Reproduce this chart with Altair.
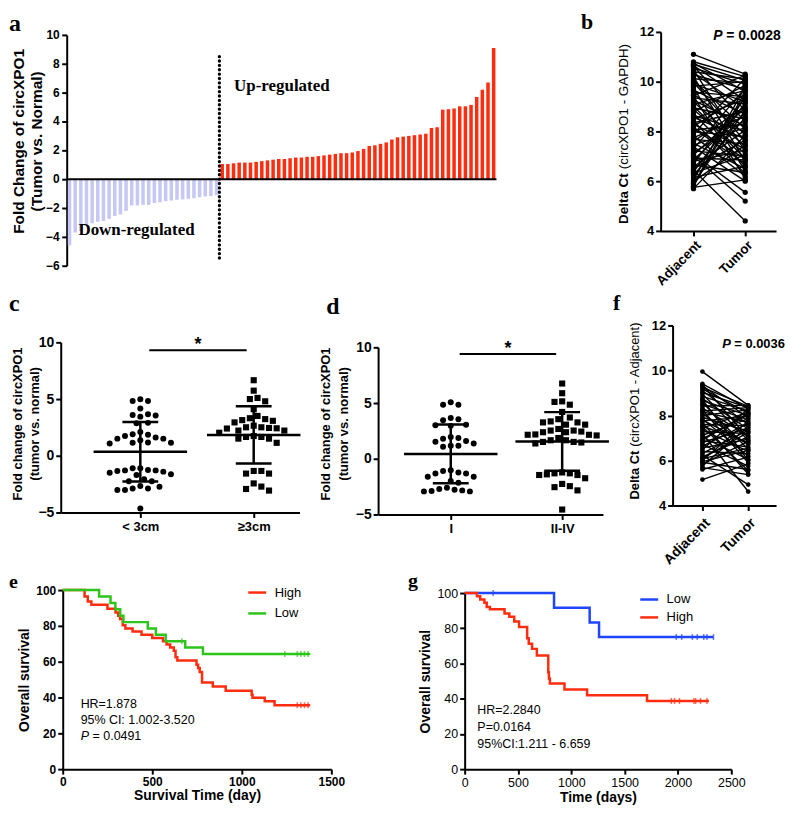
import altair as alt
import numpy as np
import pandas as pd

# ---------------- data ----------------
# (a) fold change per sample, sorted
a_down = [-4.6, -3.7, -3.6, -3.15, -3.05, -2.95, -2.9, -2.75, -2.55, -2.45, -2.2, -1.82, -1.82, -1.78,
          -1.78, -1.65, -1.6, -1.52, -1.48, -1.43, -1.4, -1.36, -1.32, -1.25, -1.2, -1.17, -1.12]
a_up = [1.05, 1.05, 1.1, 1.15, 1.15, 1.15, 1.2, 1.25, 1.3, 1.35, 1.4, 1.4, 1.45, 1.5, 1.5, 1.55, 1.55,
        1.6, 1.65, 1.7, 1.75, 1.8, 1.8, 1.85, 1.95, 2.1, 2.3, 2.35, 2.45, 2.55, 2.75, 2.9, 2.95, 3.0,
        3.05, 3.1, 3.15, 3.55, 3.6, 4.82, 4.85, 4.9, 5.05, 5.05, 5.15, 5.7, 6.2, 6.7, 9.1]
a_ticks = [-6, -4, -2, 0, 2, 4, 6, 8, 10]

# (b) paired delta Ct (circXPO1 - GAPDH)
b_adjacent = [11.10, 10.80, 10.75, 10.70, 10.62, 10.55, 10.48, 10.40, 10.35, 10.28, 10.20, 10.12, 10.05,
              9.98, 9.90, 9.82, 9.75, 9.66, 9.58, 9.50, 9.42, 9.35, 9.26, 9.18, 9.10, 9.02, 8.95, 8.88,
              8.80, 8.72, 8.64, 8.57, 8.50, 8.42, 8.35, 8.28, 8.20, 8.12, 8.05, 7.98, 7.90, 7.82, 7.75,
              7.68, 7.60, 7.52, 7.45, 7.38, 7.30, 7.22, 7.15, 7.08, 7.00, 6.93, 6.86, 6.80, 6.72, 6.65,
              6.58, 6.50, 6.44, 6.38, 6.32, 6.25, 6.15, 6.05, 5.98, 5.92, 5.86, 5.80, 5.75, 5.70, 10.65,
              9.45, 8.15, 7.05]
b_tumor = [10.30, 10.20, 9.60, 10.05, 8.40, 9.90, 7.20, 10.10, 8.90, 9.70, 6.80, 9.95, 8.10, 7.60, 9.20,
           10.00, 6.40, 8.70, 9.40, 7.90, 6.10, 9.10, 8.20, 7.40, 9.65, 6.90, 8.50, 7.10, 9.85, 6.60,
           8.00, 7.70, 9.30, 6.30, 8.80, 7.30, 9.50, 6.70, 8.30, 7.80, 10.15, 6.20, 8.60, 7.50, 9.00,
           6.50, 8.15, 6.00, 9.75, 7.00, 8.45, 5.55, 5.20, 6.85, 8.75, 7.25, 9.35, 6.35, 8.05, 7.65,
           4.40, 9.15, 7.05, 8.55, 6.60, 9.80, 7.45, 8.85, 9.60, 9.45, 6.05, 7.85, 9.25, 10.25, 6.90, 8.95]

# (c) fold change by tumour size
c_small = [4.99, 4.82, 4.82, 4.17, 3.60, 3.55, 3.65, 3.45, 2.86, 2.90, 2.10, 1.90, 1.85, 1.74, 1.51,
           1.37, 1.14, 1.08, 1.14, 1.17, 1.51, 1.60, -1.11, -1.29, -1.35, -1.40, -1.49, -1.63, -1.70,
           -1.29, -1.26, -1.11, -2.07, -2.24, -2.24, -2.67, -2.88, -3.02, -3.02, -2.88, -2.74, -4.65]
c_large = [6.66, 5.74, 5.10, 4.80, 5.00, 4.10, 3.31, 3.14, 2.94, 3.23, 3.08, 3.51, 2.45, 2.40, 2.03,
           2.51, 2.22, 2.22, 2.42, 2.51, 2.65, 1.66, 1.74, 1.51, 1.51, 1.66, 1.14, -1.34, -1.57, -1.57,
           -1.34, -2.72, -3.07, -2.93, -2.44]

# (d) fold change by stage
d_stage1 = [5.06, 4.85, 4.85, 3.65, 3.45, 3.55, 2.95, 3.00, 3.05, 1.86, 1.95, 1.60, 1.37, 1.17, 1.08,
            1.17, 1.52, 1.80, -1.04, -1.24, -1.33, -1.62, -1.62, -1.33, -1.10, -2.00, -2.15, -2.60,
            -2.78, -2.90, -2.93, -2.93, -2.84, -2.72]
d_stage2 = [6.75, 5.88, 5.10, 4.85, 5.15, 4.20, 3.55, 3.26, 3.06, 3.06, 3.26, 3.35, 3.70, 2.53, 2.44,
            2.38, 2.15, 2.09, 2.15, 2.18, 2.38, 2.53, 2.67, 1.66, 1.51, 1.46, 1.37, 1.51, 1.66, 1.86,
            -1.23, -1.46, -1.46, -1.40, -1.31, -1.31, -1.75, -2.26, -2.55, -2.84, -2.46, -4.56]

# (f) paired delta Ct (circXPO1 - Adjacent)
f_adjacent = [9.95, 9.40, 9.32, 9.25, 9.18, 9.10, 9.02, 8.95, 8.85, 8.75, 8.66, 8.58, 8.50, 8.42, 8.33,
              8.25, 8.16, 8.08, 8.00, 7.92, 7.84, 7.76, 7.68, 7.60, 7.52, 7.44, 7.36, 7.28, 7.20, 7.12,
              7.04, 6.96, 6.88, 6.80, 6.72, 6.64, 6.56, 6.48, 6.40, 6.32, 6.24, 6.16, 6.08, 6.00, 5.92,
              5.84, 5.76, 5.68, 5.60, 5.15, 9.35, 8.70, 8.20, 7.50, 6.90, 6.10, 5.95, 7.80]
f_tumor = [8.45, 8.30, 7.90, 8.40, 8.10, 7.60, 8.35, 6.90, 8.20, 7.40, 8.00, 6.50, 7.80, 8.45, 7.10,
           5.90, 7.70, 6.70, 8.25, 7.30, 6.20, 7.95, 5.40, 7.55, 6.80, 8.15, 6.40, 7.20, 4.62, 7.85,
           6.05, 8.05, 6.60, 7.45, 5.75, 7.65, 6.95, 8.30, 6.30, 7.35, 4.93, 7.05, 6.55, 7.75, 5.60,
           6.85, 7.50, 5.37, 6.15, 5.85, 7.00, 6.00, 8.35, 5.55, 8.10, 7.25, 6.45, 6.75]

# (e) Kaplan-Meier
e_high_t = [0, 122, 140, 160, 250, 295, 310, 320, 335, 350, 390, 440, 500, 560, 580, 600, 620, 630, 640,
            747, 756, 765, 778, 838, 910, 1055, 1060, 1128, 1183, 1382]
e_high_s = [100, 96.4, 93.6, 91.8, 89.5, 87.5, 85.7, 83.9, 80.4, 78.6, 76.8, 75.0, 73.2, 71.4, 69.6,
            67.9, 66.1, 62.5, 60.7, 58.3, 56.5, 54.2, 48.4, 46.2, 43.8, 41.6, 39.9, 37.9, 35.7, 35.7]
e_low_t = [0, 203, 267, 294, 321, 339, 475, 520, 575, 684, 783, 1382]
e_low_s = [100, 96.4, 92.8, 89.3, 85.7, 82.1, 78.6, 75.0, 71.4, 67.9, 64.3, 64.3]
e_high_cens = [1310, 1330, 1350, 1370]
e_low_cens = [665, 1240, 1310, 1330, 1350, 1370]

# (g) Kaplan-Meier
g_low_t = [0, 838, 1172, 1260, 2333]
g_low_s = [100, 91.7, 83.3, 75.0, 75.0]
g_high_t = [0, 115, 146, 185, 207, 237, 374, 419, 465, 510, 586, 601, 632, 677, 784, 790, 799, 936,
            1148, 1710, 2290]
g_high_s = [100, 98.2, 96.3, 94.5, 92.1, 90.8, 88.4, 86.6, 83.9, 80.7, 74.3, 71.2, 68.3, 64.6, 55.0,
            51.5, 48.6, 45.2, 42.0, 38.7, 38.7]
g_low_cens = [267, 1984, 2035, 2135, 2181, 2242, 2272, 2333]
g_high_cens = [1938, 1968, 2014, 2150, 2166, 2211, 2272]

# ---------------- style ----------------
SANS = "Liberation Sans"
SERIF = "Liberation Serif"
RED = "#ff2d0f"
LAV = "#c5c7f4"
GREEN = "#2dc41b"
BLUE = "#1f45ff"

# page layout (plot area left/top/width/height, domains, and the panel's cell box)
LAYOUT = {
    "a": dict(L=66, T=32, W=432, H=232, xd=[0.5, len(a_down) + len(a_up) + 0.5], yd=[-6, 10],
              box=(8, 8, 580, 289)),
    "b": dict(L=663, T=29, W=116, H=200, xd=[0.365, 2.596], yd=[4, 12], box=(580, 8, 785, 289)),
    "c": dict(L=60, T=340, W=240, H=171, xd=[0.298, 2.404], yd=[-5, 10], box=(8, 289, 318, 568)),
    "d": dict(L=379, T=345, W=226, H=168, xd=[0.348, 2.366], yd=[-5, 10], box=(318, 289, 608, 568)),
    "f": dict(L=670, T=323, W=104, H=181, xd=[0.348, 2.609], yd=[4, 12], box=(608, 289, 785, 568)),
    "e": dict(L=62, T=588, W=270, H=180, xd=[0, 1500], yd=[0, 100], box=(8, 568, 405, 805)),
    "g": dict(L=466, T=591, W=268, H=177, xd=[0, 2500], yd=[0, 100], box=(405, 568, 785, 805)),
}


def sx(P, v):
    return (v - P["xd"][0]) / (P["xd"][1] - P["xd"][0]) * P["W"]


def sy(P, v):
    return (1 - (v - P["yd"][0]) / (P["yd"][1] - P["yd"][0])) * P["H"]


def xscale(P):
    return alt.Scale(domain=P["xd"], nice=False, zero=False)


def yscale(P):
    return alt.Scale(domain=P["yd"], nice=False, zero=False)


def one():
    return alt.Chart(alt.Data(values=[{"k": 1}]))


def frame(P):
    x0, y0, x1, y1 = P["box"]
    return one().mark_rect(opacity=0, fill="white").encode(
        x=alt.value(x0 - P["L"]), x2=alt.value(x1 - P["L"]),
        y=alt.value(y0 - P["T"]), y2=alt.value(y1 - P["T"]))


def spacer():
    return one().mark_rect(opacity=0, fill="white").encode(
        x=alt.value(0), x2=alt.value(1), y=alt.value(0), y2=alt.value(1)).properties(width=1, height=1)


def text_at(x, y, text, size, weight="normal", style="normal", font=SANS, angle=0, align="left",
            baseline="alphabetic", dx=0):
    mk = dict(text=text, font=font, fontSize=size, fontWeight=weight, fontStyle=style,
              align=align, baseline=baseline, color="black")
    if angle:
        mk["angle"] = angle
    if dx:
        mk["dx"] = dx
    return one().mark_text(**mk).encode(x=alt.value(x), y=alt.value(y))


def page_text(P, text, x, y, size, **kw):
    return text_at(x - P["L"], y - P["T"], text, size, **kw)


def letter(P, ch, x, y, size):
    return page_text(P, ch, x, y, size, weight="bold", font=SERIF)


def ann(P, text, x, y, size, **kw):
    # annotation anchored at a data position of the panel
    return text_at(sx(P, x), sy(P, y), text, size, **kw)


def seg(P, x0, y0, x1, y1, width=2, **kw):
    return one().mark_rule(color="black", strokeWidth=width, **kw).encode(
        x=alt.value(sx(P, x0)), x2=alt.value(sx(P, x1)), y=alt.value(sy(P, y0)), y2=alt.value(sy(P, y1)))


def axis(values, size, bold=True, **kw):
    d = dict(values=values, labelFontSize=size, labelFontWeight="bold" if bold else "normal",
             labelFont=SANS, labelColor="black", grid=False, tickSize=5, tickWidth=2,
             tickColor="black", domainWidth=2, domainColor="black", labelPadding=2,
             labelFlush=False, labelOverlap=False)
    d.update(kw)
    return alt.Axis(**d)


def wrap(panel):
    # a 1px spacer above the panel puts the group origin at the top of the cell
    return alt.vconcat(spacer(), panel, spacing=0)


# ---------------- panel a ----------------
P = LAYOUT["a"]
n_a = len(a_down) + len(a_up)
df_a = pd.DataFrame({"i": np.arange(1, n_a + 1), "v": a_down + a_up})
df_a["x0"] = df_a["i"] - 0.31
df_a["x1"] = df_a["i"] + 0.31
df_a["z"] = 0.0
ax_a = axis(a_ticks, 12, title=None, labels=False)
xa = alt.X("x0:Q", scale=xscale(P), axis=None)
ya = alt.Y("v:Q", scale=yscale(P), axis=ax_a)
bars_a = alt.Chart(df_a).mark_rect().encode(
    x=xa, x2="x1:Q", y=ya, y2="z:Q",
    color=alt.condition("datum.v < 0", alt.value(LAV), alt.value(RED)))
tick_lab_a = alt.Chart(pd.DataFrame({"t": a_ticks})).mark_text(
    align="right", baseline="middle", font=SANS, fontSize=12, fontWeight="bold", color="black").encode(
    x=alt.value(-7), y=alt.Y("t:Q", scale=yscale(P), axis=ax_a), text=alt.Text("t:Q", format="d"))
panel_a = alt.layer(
    frame(P), bars_a, tick_lab_a,
    seg(P, P["xd"][0], 0, P["xd"][1], 0, 2),
    seg(P, len(a_down) + 0.5, 8.5, len(a_down) + 0.5, -5.7, 3.3, strokeDash=[0.1, 4.3], strokeCap="round"),
    ann(P, "Up-regulated", 30.1, 6.14, 17, weight="bold", font=SERIF),
    ann(P, "Down-regulated", 2.58, -3.85, 17, weight="bold", font=SERIF),
    letter(P, "a", 8, 28, 24),
    page_text(P, "Fold Change of circXPO1", 18, 139, 15.5, weight="bold", angle=270, align="center",
              baseline="middle"),
    page_text(P, "(Tumor vs. Normal)", 36, 139, 15.5, weight="bold", angle=270, align="center",
              baseline="middle"),
).properties(width=P["W"], height=P["H"])


# ---------------- paired panels (b, f) ----------------
def paired_panel(P, adj, tum, pt_size, lw, ylab, xlab, xpad):
    n = len(adj)
    df = pd.DataFrame({"pid": list(range(n)) * 2, "x": [1] * n + [2] * n, "v": list(adj) + list(tum)})
    xs = alt.X("x:Q", scale=xscale(P),
               axis=axis([1, 2], xlab, title=None, labelAngle=315, labelAlign="right",
                         labelBaseline="top", labelPadding=xpad,
                         labelExpr="datum.value == 1 ? 'Adjacent' : 'Tumor'"))
    ys = alt.Y("v:Q", scale=yscale(P), axis=axis([4, 6, 8, 10, 12], ylab, title=None, format="d"))
    lines = alt.Chart(df).mark_line(color="black", strokeWidth=lw).encode(x=xs, y=ys, detail="pid:N")
    pts = alt.Chart(df).mark_circle(color="black", size=pt_size, opacity=1).encode(x=xs, y=ys)
    return lines, pts


P = LAYOUT["b"]
lb, pb = paired_panel(P, b_adjacent, b_tumor, 28, 1.4, 13, 13.5, 2)
panel_b = alt.layer(
    frame(P), lb, pb,
    ann(P, "P", 1.384, 11.68, 14, weight="bold", style="italic"),
    ann(P, "= 0.0028", 1.384, 11.68, 14, weight="bold", dx=13),
    letter(P, "b", 583, 26, 22),
    page_text(P, "Delta Ct", 626, 222, 13.5, weight="bold", angle=270, align="left", baseline="middle"),
    page_text(P, "(circXPO1 - GAPDH)", 626, 167, 13.5, angle=270, align="left", baseline="middle"),
).properties(width=P["W"], height=P["H"])

P = LAYOUT["f"]
lf, pf = paired_panel(P, f_adjacent, f_tumor, 22, 1.4, 13, 14, 5)
panel_f = alt.layer(
    frame(P), lf, pf,
    ann(P, "P", 1.435, 10.99, 13, weight="bold", style="italic"),
    ann(P, "= 0.0036", 1.435, 10.99, 13, weight="bold", dx=12),
    letter(P, "f", 610, 307, 22),
    page_text(P, "Delta Ct", 632, 498, 13, weight="bold", angle=270, align="left", baseline="middle"),
    page_text(P, "(circXPO1 - Adjacent)", 632, 445, 13, angle=270, align="left", baseline="middle"),
).properties(width=P["W"], height=P["H"])


# ---------------- scatter panels (c, d) ----------------
def swarm(vals, center, ux, uy, d):
    order = sorted(range(len(vals)), key=lambda i: vals[i], reverse=True)
    placed = []
    xs = [0.0] * len(vals)
    flip = 1
    for i in order:
        py = vals[i] * uy
        cands = [0.0]
        for k in range(1, 40):
            cands += [flip * k * d / 2, -flip * k * d / 2]
        for s in cands:
            if all((s - qx) ** 2 + (py - qy) ** 2 >= 0.97 * d * d for qx, qy in placed):
                break
        placed.append((s, py))
        xs[i] = center + s / ux
        flip = -flip
    return xs


def scatter_panel(P, g1, g2, labels, sig):
    ux = P["W"] / (P["xd"][1] - P["xd"][0])
    uy = P["H"] / (P["yd"][1] - P["yd"][0])
    df1 = pd.DataFrame({"x": swarm(g1, 1, ux, uy, 7.7), "v": g1})
    df2 = pd.DataFrame({"x": swarm(g2, 2, ux, uy, 7.7), "v": g2})
    xs = alt.X("x:Q", scale=xscale(P),
               axis=axis([1, 2], 13, title=None, labelPadding=3,
                         labelExpr="datum.value == 1 ? '%s' : '%s'" % labels))
    ys = alt.Y("v:Q", scale=yscale(P), axis=axis([-5, 0, 5, 10], 14, title=None, format="d"))
    p1 = alt.Chart(df1).mark_point(shape="circle", filled=True, size=36, color="black", opacity=1).encode(x=xs, y=ys)
    p2 = alt.Chart(df2).mark_point(shape="square", filled=True, size=38, color="black", opacity=1).encode(x=xs, y=ys)
    segs = []
    mh, ch = 47 / ux, 18 / ux
    for c, g in ((1, g1), (2, g2)):
        m = float(np.mean(g))
        s = float(np.std(g, ddof=1))
        segs += [dict(x=c - mh, x2=c + mh, v=m, v2=m),
                 dict(x=c - ch, x2=c + ch, v=m + s, v2=m + s),
                 dict(x=c - ch, x2=c + ch, v=m - s, v2=m - s),
                 dict(x=c, x2=c, v=m - s, v2=m + s)]
    eb = alt.Chart(pd.DataFrame(segs)).mark_rule(color="black", strokeWidth=2.5).encode(
        x=xs, x2="x2:Q", y=ys, y2="v2:Q")
    sigbar = seg(P, sig[0], sig[2], sig[1], sig[2], 2)
    star = ann(P, "*", (sig[0] + sig[1]) / 2, sig[2], 18, weight="bold", align="center")
    return [p1, p2, eb, sigbar, star]


P = LAYOUT["c"]
panel_c = alt.layer(
    frame(P), *scatter_panel(P, c_small, c_large, ("< 3cm", "≥3cm"), (1.079, 1.938, 9.3)),
    letter(P, "c", 8, 308, 24),
    page_text(P, "Fold change of circXPO1", 17, 422, 13, weight="bold", angle=270, align="center",
              baseline="middle"),
    page_text(P, "(tumor vs. normal)", 34, 422, 13, weight="bold", angle=270, align="center",
              baseline="middle"),
).properties(width=P["W"], height=P["H"])

P = LAYOUT["d"]
panel_d = alt.layer(
    frame(P), *scatter_panel(P, d_stage1, d_stage2, ("I", "II-IV"), (1.080, 1.946, 9.4)),
    letter(P, "d", 327, 312, 24),
    page_text(P, "Fold change of circXPO1", 327, 422, 13, weight="bold", angle=270, align="center",
              baseline="middle"),
    page_text(P, "(tumor vs. normal)", 345, 422, 13, weight="bold", angle=270, align="center",
              baseline="middle"),
).properties(width=P["W"], height=P["H"])


# ---------------- KM panels (e, g) ----------------
def km_panel(P, curves, cens, order, colors, xvals, xtitle, bold, leg_x, leg_y, rowpad):
    rows, crow = [], []
    for name, (t, s) in curves.items():
        for ti, si in zip(t, s):
            rows.append(dict(g=name, t=ti, s=si))
        for ct in cens[name]:
            lvl = [si for ti, si in zip(t, s) if ti <= ct][-1]
            crow.append(dict(g=name, t=ct, s=lvl))
    df, cdf = pd.DataFrame(rows), pd.DataFrame(crow)
    sc = alt.Scale(domain=order, range=colors)
    fs = 12 if bold else 12.5
    xs = alt.X("t:Q", scale=xscale(P),
               axis=axis(xvals, fs, bold=bold, format="d", title=xtitle, titleFont=SANS,
                         titleFontSize=14, titleFontWeight="bold", titleColor="black", titlePadding=2))
    ys = alt.Y("s:Q", scale=yscale(P),
               axis=axis([0, 20, 40, 60, 80, 100], fs, bold=bold, format="d", title="Overall survival",
                         titleFont=SANS, titleFontSize=14, titleFontWeight="bold", titleColor="black",
                         titlePadding=4))
    leg = alt.Legend(orient="none", legendX=leg_x, legendY=leg_y, title=None, symbolType="stroke",
                     symbolStrokeWidth=2.5, symbolSize=324, labelFontSize=13, labelFont=SANS,
                     labelColor="black", rowPadding=rowpad, labelOffset=7, padding=0)
    line = alt.Chart(df).mark_line(interpolate="step-after", strokeWidth=2.5).encode(
        x=xs, y=ys, color=alt.Color("g:N", scale=sc, legend=leg))
    ticks = alt.Chart(cdf).mark_tick(orient="vertical", size=6, thickness=1.5).encode(
        x=xs, y=ys, color=alt.Color("g:N", scale=sc, legend=None))
    return [line, ticks]


P = LAYOUT["e"]
panel_e = alt.layer(
    frame(P),
    *km_panel(P, {"High": (e_high_t, e_high_s), "Low": (e_low_t, e_low_s)},
              {"High": e_high_cens, "Low": e_low_cens}, ["High", "Low"], [RED, GREEN],
              [0, 500, 1000, 1500], "Survival Time (day)", True, 185, 13, 3),
    ann(P, "HR=1.878", 100, 34.2, 12.5),
    ann(P, "95% CI: 1.002-3.520", 100, 25.0, 12.5),
    ann(P, "P", 100, 16.3, 12.5, style="italic"),
    ann(P, "= 0.0491", 100, 16.3, 12.5, dx=12),
    letter(P, "e", 8, 586, 20),
).properties(width=P["W"], height=P["H"])

P = LAYOUT["g"]
panel_g = alt.layer(
    frame(P),
    *km_panel(P, {"Low": (g_low_t, g_low_s), "High": (g_high_t, g_high_s)},
              {"Low": g_low_cens, "High": g_high_cens}, ["Low", "High"], [BLUE, RED],
              [0, 500, 1000, 1500, 2000, 2500], "Time (days)", False, 175, 20, 0),
    ann(P, "HR=2.2840", 119, 31.3, 12.5),
    ann(P, "P=0.0164", 119, 21.4, 12.5),
    ann(P, "95%CI:1.211 - 6.659", 119, 12.1, 12.5),
    letter(P, "g", 409, 585, 20),
).properties(width=P["W"], height=P["H"])

# ---------------- assemble ----------------
row1 = alt.hconcat(spacer(), wrap(panel_a), wrap(panel_b), spacing=0)
row2 = alt.hconcat(spacer(), wrap(panel_c), wrap(panel_d), wrap(panel_f), spacing=0)
row3 = alt.hconcat(spacer(), wrap(panel_e), wrap(panel_g), spacing=0).resolve_scale(color="independent")
chart = (
    alt.vconcat(row1, row2, row3, spacing=0)
    .resolve_scale(color="independent")
    .properties(padding=0)
    .configure_view(stroke=None)
    .configure_axis(labelOverlap=False, labelFlush=False, labelFont=SANS, titleFont=SANS)
)
chart.save("out.html", embed_options={"renderer": "svg", "actions": False})
